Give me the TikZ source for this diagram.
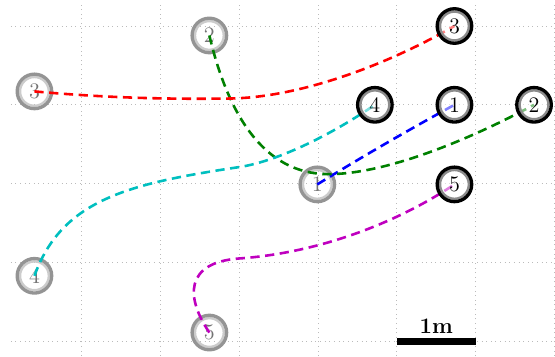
\documentclass[tikz,border=0pt]{standalone}
\usepackage{tikz}
\usetikzlibrary{positioning, backgrounds}
\definecolor{trajred}{rgb}{1,0,0}
\definecolor{trajgreen}{rgb}{0,0.5,0}
\definecolor{trajblue}{rgb}{0,0,1}
\definecolor{trajcyan}{rgb}{0,0.75,0.75}
\definecolor{trajmag}{rgb}{0.75,0,0.75}
\definecolor{gridgray}{HTML}{BBBBBB}

\begin{document}
\begin{tikzpicture}[
    x=1.5cm, y=1.5cm,
    every node/.style={font=\large},
    startbot/.style={circle, draw=black!42, line width=1.8pt, minimum size=18.7pt, inner sep=0pt, text=black!55,
        path picture={\draw[black!20, line width=1.3pt] (path picture bounding box.center) circle (7.8pt);}},
    goalbot/.style={circle, draw=black, line width=1.8pt, minimum size=18.7pt, inner sep=0pt,
        fill=white, fill opacity=0.5, text opacity=1,
        path picture={\draw[black!45, line width=1.3pt] (path picture bounding box.center) circle (7.8pt);}},
    traj/.style={line width=1.4pt, dash pattern=on 5pt off 3pt},
    gridline/.style={gridgray, line width=0.5pt, dotted, step=1.5cm}
]
\useasboundingbox (-0.037,-0.19) rectangle (7.006,4.33);

\begin{scope}[on background layer]
% grid
\draw[gridline] (0.1,-0.19) grid (7.01,4.27);

% start positions
\node[startbot] (s1) at (3.99, 1.99) {1};
\node[startbot] (s2) at (2.62, 3.88) {2};
\node[startbot] (s3) at (0.40, 3.17) {3};
\node[startbot] (s4) at (0.40, 0.83) {4};
\node[startbot] (s5) at (2.62, 0.11) {5};
\end{scope}

% goals
\node[goalbot] (g1) at (5.73, 3.0) {1};
\node[goalbot] (g2) at (6.74, 3.0) {2};
\node[goalbot] (g3) at (5.73, 4.0) {3};
\node[goalbot] (g4) at (4.72, 3.0) {4};
\node[goalbot] (g5) at (5.73, 1.99) {5};

% trajectories
\begin{scope}[on background layer]
\draw[traj, trajblue] (s1.center) .. controls +(0.6,0.37) and +(-0.6,-0.33) .. (g1.center);
\draw[traj, trajgreen] (s2.center) .. controls (2.85,2.9) and (3.3,2.12) .. (4.13,2.12)
    .. controls (4.9,2.12) and (6.0,2.6) .. (g2.center);
\draw[traj, trajred] (s3.center) .. controls (1.4,3.08) and (2.2,3.07) .. (2.9,3.08)
    .. controls (3.8,3.1) and (4.9,3.52) .. (g3.center);
\draw[traj, trajcyan] (s4.center) .. controls (0.75,1.8) and (1.6,2.0) .. (3.0,2.21)
    .. controls (3.5,2.285) and (4.2,2.64) .. (g4.center);
\draw[traj, trajmag] (s5.center) .. controls (2.32,0.55) and (2.3,1.0) .. (3.0,1.05)
    .. controls (4.0,1.12) and (5.0,1.5) .. (g5.center);
\end{scope}

% scale bar
\node[fill=black, minimum width=1.5cm, minimum height=3.8pt, inner sep=0pt] (scalebar) at (5.5, 0) {};
\node[above=2pt of scalebar, inner sep=0pt, font=\large\bfseries] (scalelbl) {1m};

\end{tikzpicture}
\end{document}
